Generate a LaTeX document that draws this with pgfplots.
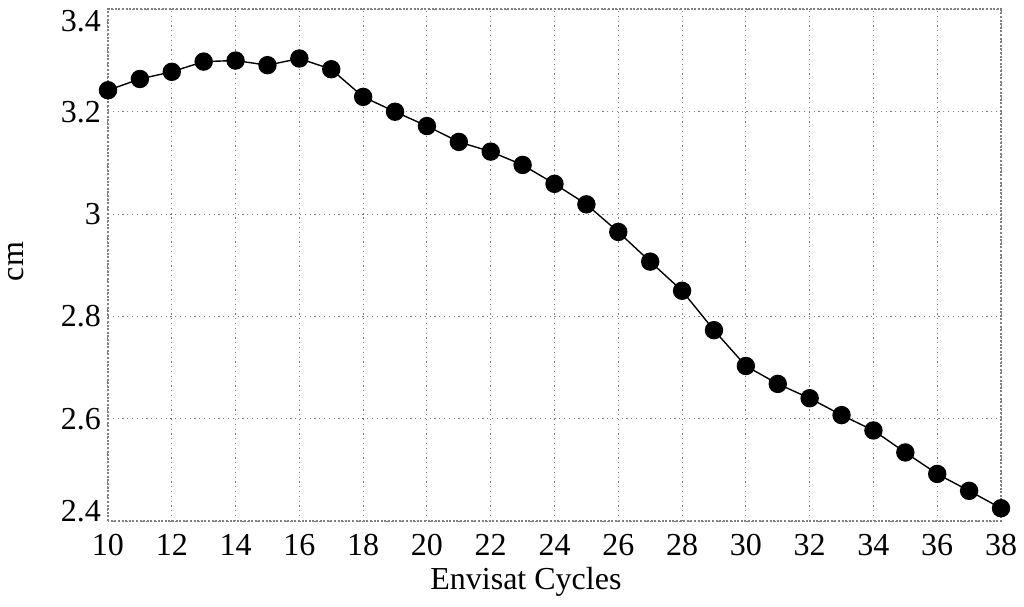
\documentclass[border=0pt]{standalone}
\usepackage{pgfplots}
\pgfplotsset{compat=1.18}
\usepackage{fontspec}
\setmainfont{Liberation Serif}

\begin{document}
\begin{tikzpicture}
\begin{axis}[
    scale only axis,
    width=446.5pt, height=255.8pt,
    xmin=10, xmax=38,
    ymin=2.4, ymax=3.4,
    xtick={10,12,...,38},
    ytick={2.4,2.6,2.8,3.0,3.2,3.4},
    yticklabels={\smash{2.4},2.6,2.8,3,3.2,\smash{\raisebox{-11pt}{3.4}}},
    major tick length=0pt,
    /pgf/number format/assume math mode=true,
    tick label style={font=\fontsize{16}{19}\selectfont},
    xticklabel style={yshift=-3pt},
    grid=major,
    major grid style={gray, line width=0.5pt, dash pattern=on 0.6pt off 1.8pt},
    axis line style={gray, line width=1pt, dash pattern=on 1pt off 0.8pt},
    xlabel={Envisat Cycles},
    ylabel={cm},
    every axis x label/.style={at={(axis description cs:0.468,-0.1335)}, anchor=base, font=\fontsize{16}{19}\selectfont},
    every axis y label/.style={at={(axis description cs:-0.103,0.507)}, anchor=center, rotate=90, font=\fontsize{16}{19}\selectfont},
]
\addplot[black, line width=0.7pt, mark=*, mark size=4.25pt, mark options={fill=black}]
    coordinates {
    (10,3.242)(11,3.264)(12,3.278)(13,3.298)(14,3.300)(15,3.291)(16,3.304)
    (17,3.283)(18,3.229)(19,3.200)(20,3.172)(21,3.141)(22,3.122)(23,3.096)
    (24,3.059)(25,3.019)(26,2.965)(27,2.907)(28,2.850)(29,2.773)(30,2.703)
    (31,2.668)(32,2.640)(33,2.607)(34,2.577)(35,2.534)(36,2.492)(37,2.459)
    (38,2.425)
    };
\end{axis}
\pgfresetboundingbox
\path ([xshift=-54pt,yshift=-42.5pt]current axis.south west) rectangle ([xshift=11.5pt,yshift=4.7pt]current axis.north east);
\end{tikzpicture}
\end{document}
